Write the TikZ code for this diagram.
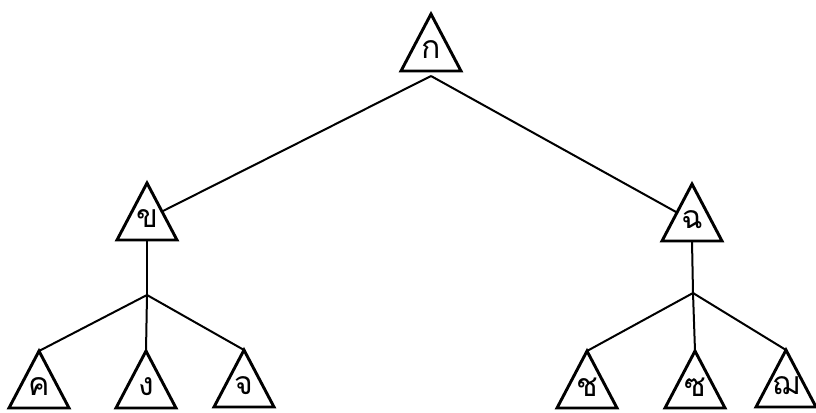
\documentclass[tikz,border=0pt]{standalone}
\usepackage{fontspec}
\newfontfamily\thaifont[Script=Thai]{Loma}
\usetikzlibrary{calc}
\tikzset{
  tri/.style={draw=black, line width=2.2pt, line join=miter},
  conn/.style={draw=black, line width=1.5pt},
  lbl/.style={font=\thaifont\fontsize{24}{24}\selectfont, inner sep=0pt}
}
% \thtri{name}{apex x}{apex y}{letter}
\newcommand\thtri[4]{%
  \coordinate (#1-a) at (#2,#3);
  \coordinate (#1-bl) at ($(#2,#3)+(-30,57)$);
  \coordinate (#1-br) at ($(#2,#3)+(30,57)$);
  \coordinate (#1-b) at ($(#2,#3)+(0,57)$);
  \coordinate (#1-l) at ($(#2,#3)+(-15,28.5)$);
  \coordinate (#1-r) at ($(#2,#3)+(15,28.5)$);
  \path[tri] (#1-a) -- (#1-br) -- (#1-bl) -- cycle;
  \node[lbl] (#1-t) at ($(#2,#3)+(0,36)$) {#4};
}
\begin{document}
\begin{tikzpicture}[x=0.75pt,y=-0.75pt]
\useasboundingbox (0,0) rectangle (816,412);
\thtri{r}{431}{14}{ก}
\thtri{b}{147}{183}{ข}
\thtri{c}{692}{184}{ฉ}
\thtri{k1}{39}{351}{ค}
\thtri{k2}{146}{351}{ง}
\thtri{k3}{244}{350}{จ}
\thtri{k4}{587}{351}{ช}
\thtri{k5}{695}{351}{ซ}
\thtri{k6}{786}{350}{ฌ}
\coordinate (rj) at (431,76);
\coordinate (bj) at (147,295);
\coordinate (cj) at (693,293);
\draw[conn] (rj) -- (b-r);
\draw[conn] (rj) -- (c-l);
\draw[conn] (b-b) -- (bj);
\draw[conn] (c-b) -- (cj);
\draw[conn] (bj) -- (k1-a);
\draw[conn] (bj) -- (k2-a);
\draw[conn] (bj) -- (k3-a);
\draw[conn] (cj) -- (k4-a);
\draw[conn] (cj) -- (k5-a);
\draw[conn] (cj) -- (k6-a);
\end{tikzpicture}
\end{document}
